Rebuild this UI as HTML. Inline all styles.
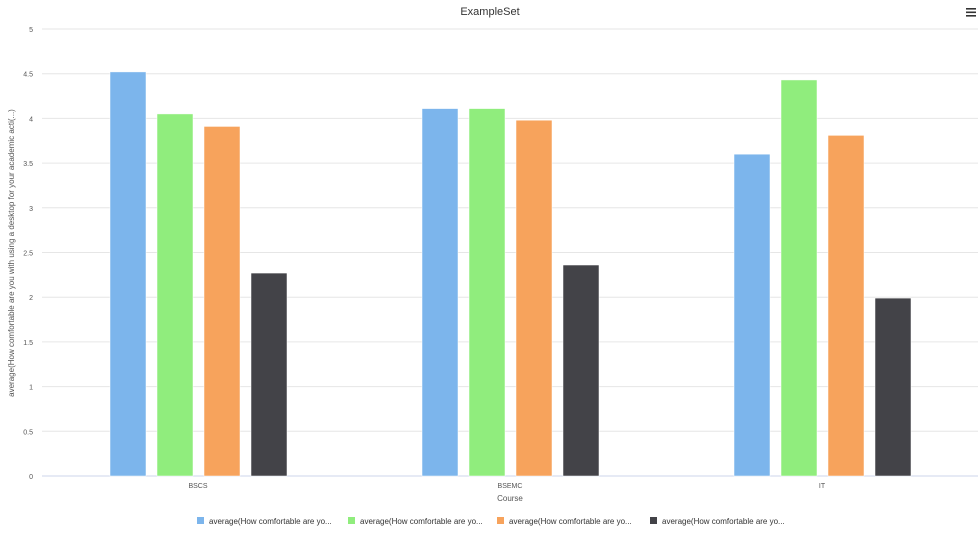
<!DOCTYPE html>
<html><head><meta charset="utf-8"><style>
body{margin:0;background:#fff;font-family:"Liberation Sans",sans-serif;}
svg{display:block}
</style></head><body>
<svg id="chart" width="980" height="540">
<text x="490" y="15" text-anchor="middle" font-size="11" fill="#333">ExampleSet</text>
<g><rect x="966" y="8" width="10" height="1.6" fill="#333"/><rect x="966" y="11.5" width="10" height="1.6" fill="#333"/><rect x="966" y="15" width="10" height="1.6" fill="#333"/></g>
<text transform="translate(14,253) rotate(-90)" text-anchor="middle" font-size="8" fill="#555">average(How comfortable are you with using a desktop for your academic acti(...)</text>
<text x="510" y="501" text-anchor="middle" font-size="8" fill="#555">Course</text>
<g id="grid"></g><g id="bars"></g><g id="legend"></g>
</svg>
<script>
const categories=["BSCS","BSEMC","IT"];
const series1=[4.52,4.11,3.60];
const series2=[4.05,4.11,4.43];
const series3=[3.91,3.98,3.81];
const series4=[2.27,2.36,1.99];
const yTicks=[0,0.5,1,1.5,2,2.5,3,3.5,4,4.5,5];
const seriesNames=["average(How comfortable are yo...","average(How comfortable are yo...","average(How comfortable are yo...","average(How comfortable are yo..."];
const colors=["#7cb5ec","#90ed7d","#f7a35c","#434348"];
const NS="http://www.w3.org/2000/svg";
const x0=42,x1=978,y0=476,y1=29;
const y=v=>y0-(v/5)*(y0-y1);
const bw=(x1-x0)/categories.length;
const xc=i=>x0+bw*(i+0.5);
function mk(t,a,p){const e=document.createElementNS(NS,t);for(const k in a)e.setAttribute(k,a[k]);p.appendChild(e);return e;}
const grid=document.getElementById('grid');
yTicks.forEach(t=>{
 const l=mk('line',{x1:x0,x2:x1,y1:y(t),y2:y(t),stroke:t===0?'#ccd6eb':'#e6e6e6','stroke-width':1},grid);
 
 
 const tx=mk('text',{x:33,y:y(t)+3,'text-anchor':'end','font-size':7,fill:'#555'},grid);tx.textContent=t;
 
 
});
categories.forEach((c,i)=>{
 const tx=mk('text',{x:xc(i),y:488,'text-anchor':'middle','font-size':7,fill:'#555'},grid);tx.textContent=c;
 
 
});
const all=[series1,series2,series3,series4];
const bars=document.getElementById('bars');
all.forEach((s,si)=>s.forEach((v,i)=>{
 const bx=xc(i)-88+si*47;
 const r=mk('rect',{x:bx,y:y(v),width:36,height:y0-y(v),fill:colors[si],stroke:'#fff','stroke-width':0.5},bars);
 
 
}));
const lg=document.getElementById('legend');
const lx=[197,348,497,650];
seriesNames.forEach((n,i)=>{
 const g=mk('g',{},lg);
 
 
 mk('rect',{x:lx[i],y:517,width:7,height:7,fill:colors[i]},g);
 const t=mk('text',{x:lx[i]+12,y:524,'font-size':8,fill:'#333'},g);t.textContent=n;
});
</script>
</body></html>
